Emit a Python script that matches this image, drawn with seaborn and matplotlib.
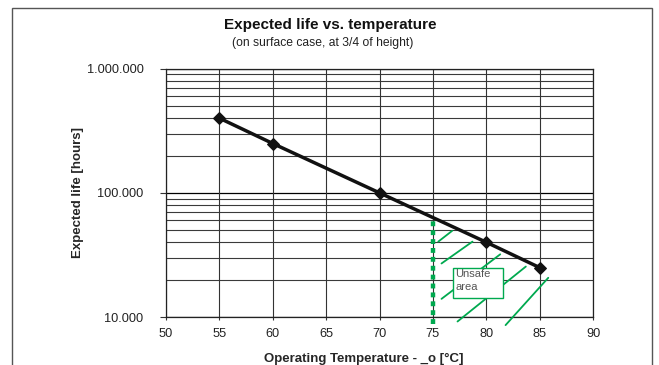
import matplotlib

matplotlib.use("Agg")
import matplotlib.pyplot as plt
import numpy as np
import pandas as pd
import seaborn as sns
from matplotlib.patches import Rectangle
from matplotlib.ticker import FixedLocator, FuncFormatter

# data
temperature = [55, 60, 70, 80, 85]
life_hours = [400000, 250000, 100000, 40000, 25000]

x_ticks = [50, 55, 60, 65, 70, 75, 80, 85, 90]
y_major = [10000, 100000, 1000000]

# unsafe-area annotation (data coordinates: temperature, hours)
limit_temp = 75
limit_life = (8800, 62000)
hatch_segments = [
    ((75.5, 40500), (76.8, 49500)),
    ((75.8, 27000), (78.7, 40500)),
    ((75.8, 14000), (81.3, 32000)),
    ((77.3, 9200), (83.7, 25500)),
    ((81.8, 8600), (85.8, 20700)),
]
box_temp = (76.9, 81.6)
box_life = (14200, 24900)

GREEN = "#00a94f"


def dotted_thousands(v, _pos):
    return f"{int(round(v)):,}".replace(",", ".")


def main() -> None:
    sns.set_theme(style="white")
    plt.rcParams["font.family"] = ["Liberation Sans", "DejaVu Sans"]

    df = pd.DataFrame({"temp": temperature, "life": life_hours})

    fig = plt.figure(figsize=(6.59, 3.65), dpi=100)
    fig.patch.set_facecolor("white")
    ax = fig.add_axes([0.252, 0.1315, 0.648, 0.680])

    ax.set_yscale("log")
    ax.set_xlim(50, 90)
    ax.set_ylim(10000, 1000000)

    # grid: verticals every 5, horizontals at every minor log step
    minor = [m * 10 ** k for k in (4, 5) for m in range(2, 10)]
    for yv in minor:
        ax.axhline(yv, color="#3a3a3a", lw=0.8, zorder=1)
    for yv in y_major:
        ax.axhline(yv, color="black", lw=0.9, zorder=1)
    for xv in x_ticks:
        ax.axvline(xv, color="#333333", lw=0.8, zorder=1)

    sns.lineplot(
        data=df,
        x="temp",
        y="life",
        color="#111111",
        linewidth=2.5,
        marker="D",
        markersize=6.5,
        markeredgecolor="#111111",
        ax=ax,
        zorder=5,
    )

    # unsafe area
    ax.plot(
        [limit_temp, limit_temp],
        limit_life,
        color=GREEN,
        lw=3.2,
        linestyle=(0, (1.1, 0.9)),
        clip_on=False,
        zorder=4,
    )
    for (x0, y0), (x1, y1) in hatch_segments:
        ax.plot([x0, x1], [y0, y1], color=GREEN, lw=1.3, clip_on=False, zorder=3)
    ax.add_patch(
        Rectangle(
            (box_temp[0], box_life[0]),
            box_temp[1] - box_temp[0],
            box_life[1] - box_life[0],
            facecolor="white",
            edgecolor=GREEN,
            lw=1.0,
            zorder=6,
        )
    )
    ax.text(
        box_temp[0] + 0.2,
        box_life[1] * 0.985,
        "Unsafe\narea",
        fontsize=8,
        color="#555555",
        ha="left",
        va="top",
        linespacing=1.4,
        zorder=7,
    )

    ax.xaxis.set_major_locator(FixedLocator(x_ticks))
    ax.yaxis.set_major_locator(FixedLocator(y_major))
    ax.yaxis.set_minor_locator(FixedLocator([]))
    ax.yaxis.set_major_formatter(FuncFormatter(dotted_thousands))
    ax.tick_params(
        axis="both",
        which="major",
        direction="out",
        width=0.8,
        color="#333333",
        labelsize=9.2,
        labelcolor="#222222",
        bottom=True,
        left=True,
    )
    ax.tick_params(axis="y", length=4.3, pad=12)
    ax.tick_params(axis="x", length=2.5, pad=5.5)
    for side in ("left", "bottom", "right", "top"):
        ax.spines[side].set_color("#222222")
        ax.spines[side].set_linewidth(0.9)

    ax.set_xlabel("Operating Temperature - _o [°C]", fontsize=9.5, fontweight="bold")
    ax.set_ylabel("Expected life [hours]", fontsize=9.5, fontweight="bold")
    ax.xaxis.set_label_coords(0.464, -0.143)
    ax.yaxis.set_label_coords(-0.192, 0.5)

    fig.text(330 / 659, 1 - 25 / 365, "Expected life vs. temperature", ha="center", va="center",
             fontsize=11, fontweight="bold", color="#111111")
    fig.text(323 / 659, 1 - 43 / 365, "(on surface case, at 3/4 of height)", ha="center", va="center",
             fontsize=8.7, color="#222222")

    # outer chart frame (runs past the bottom edge)
    fig.patches.append(
        Rectangle((12 / 659, -0.1), 640 / 659, 1.1 - 8 / 365, transform=fig.transFigure,
                  fill=False, edgecolor="#555555", lw=1.0)
    )

    fig.savefig("out.png", dpi=100)
    plt.close(fig)


if __name__ == "__main__":
    main()
